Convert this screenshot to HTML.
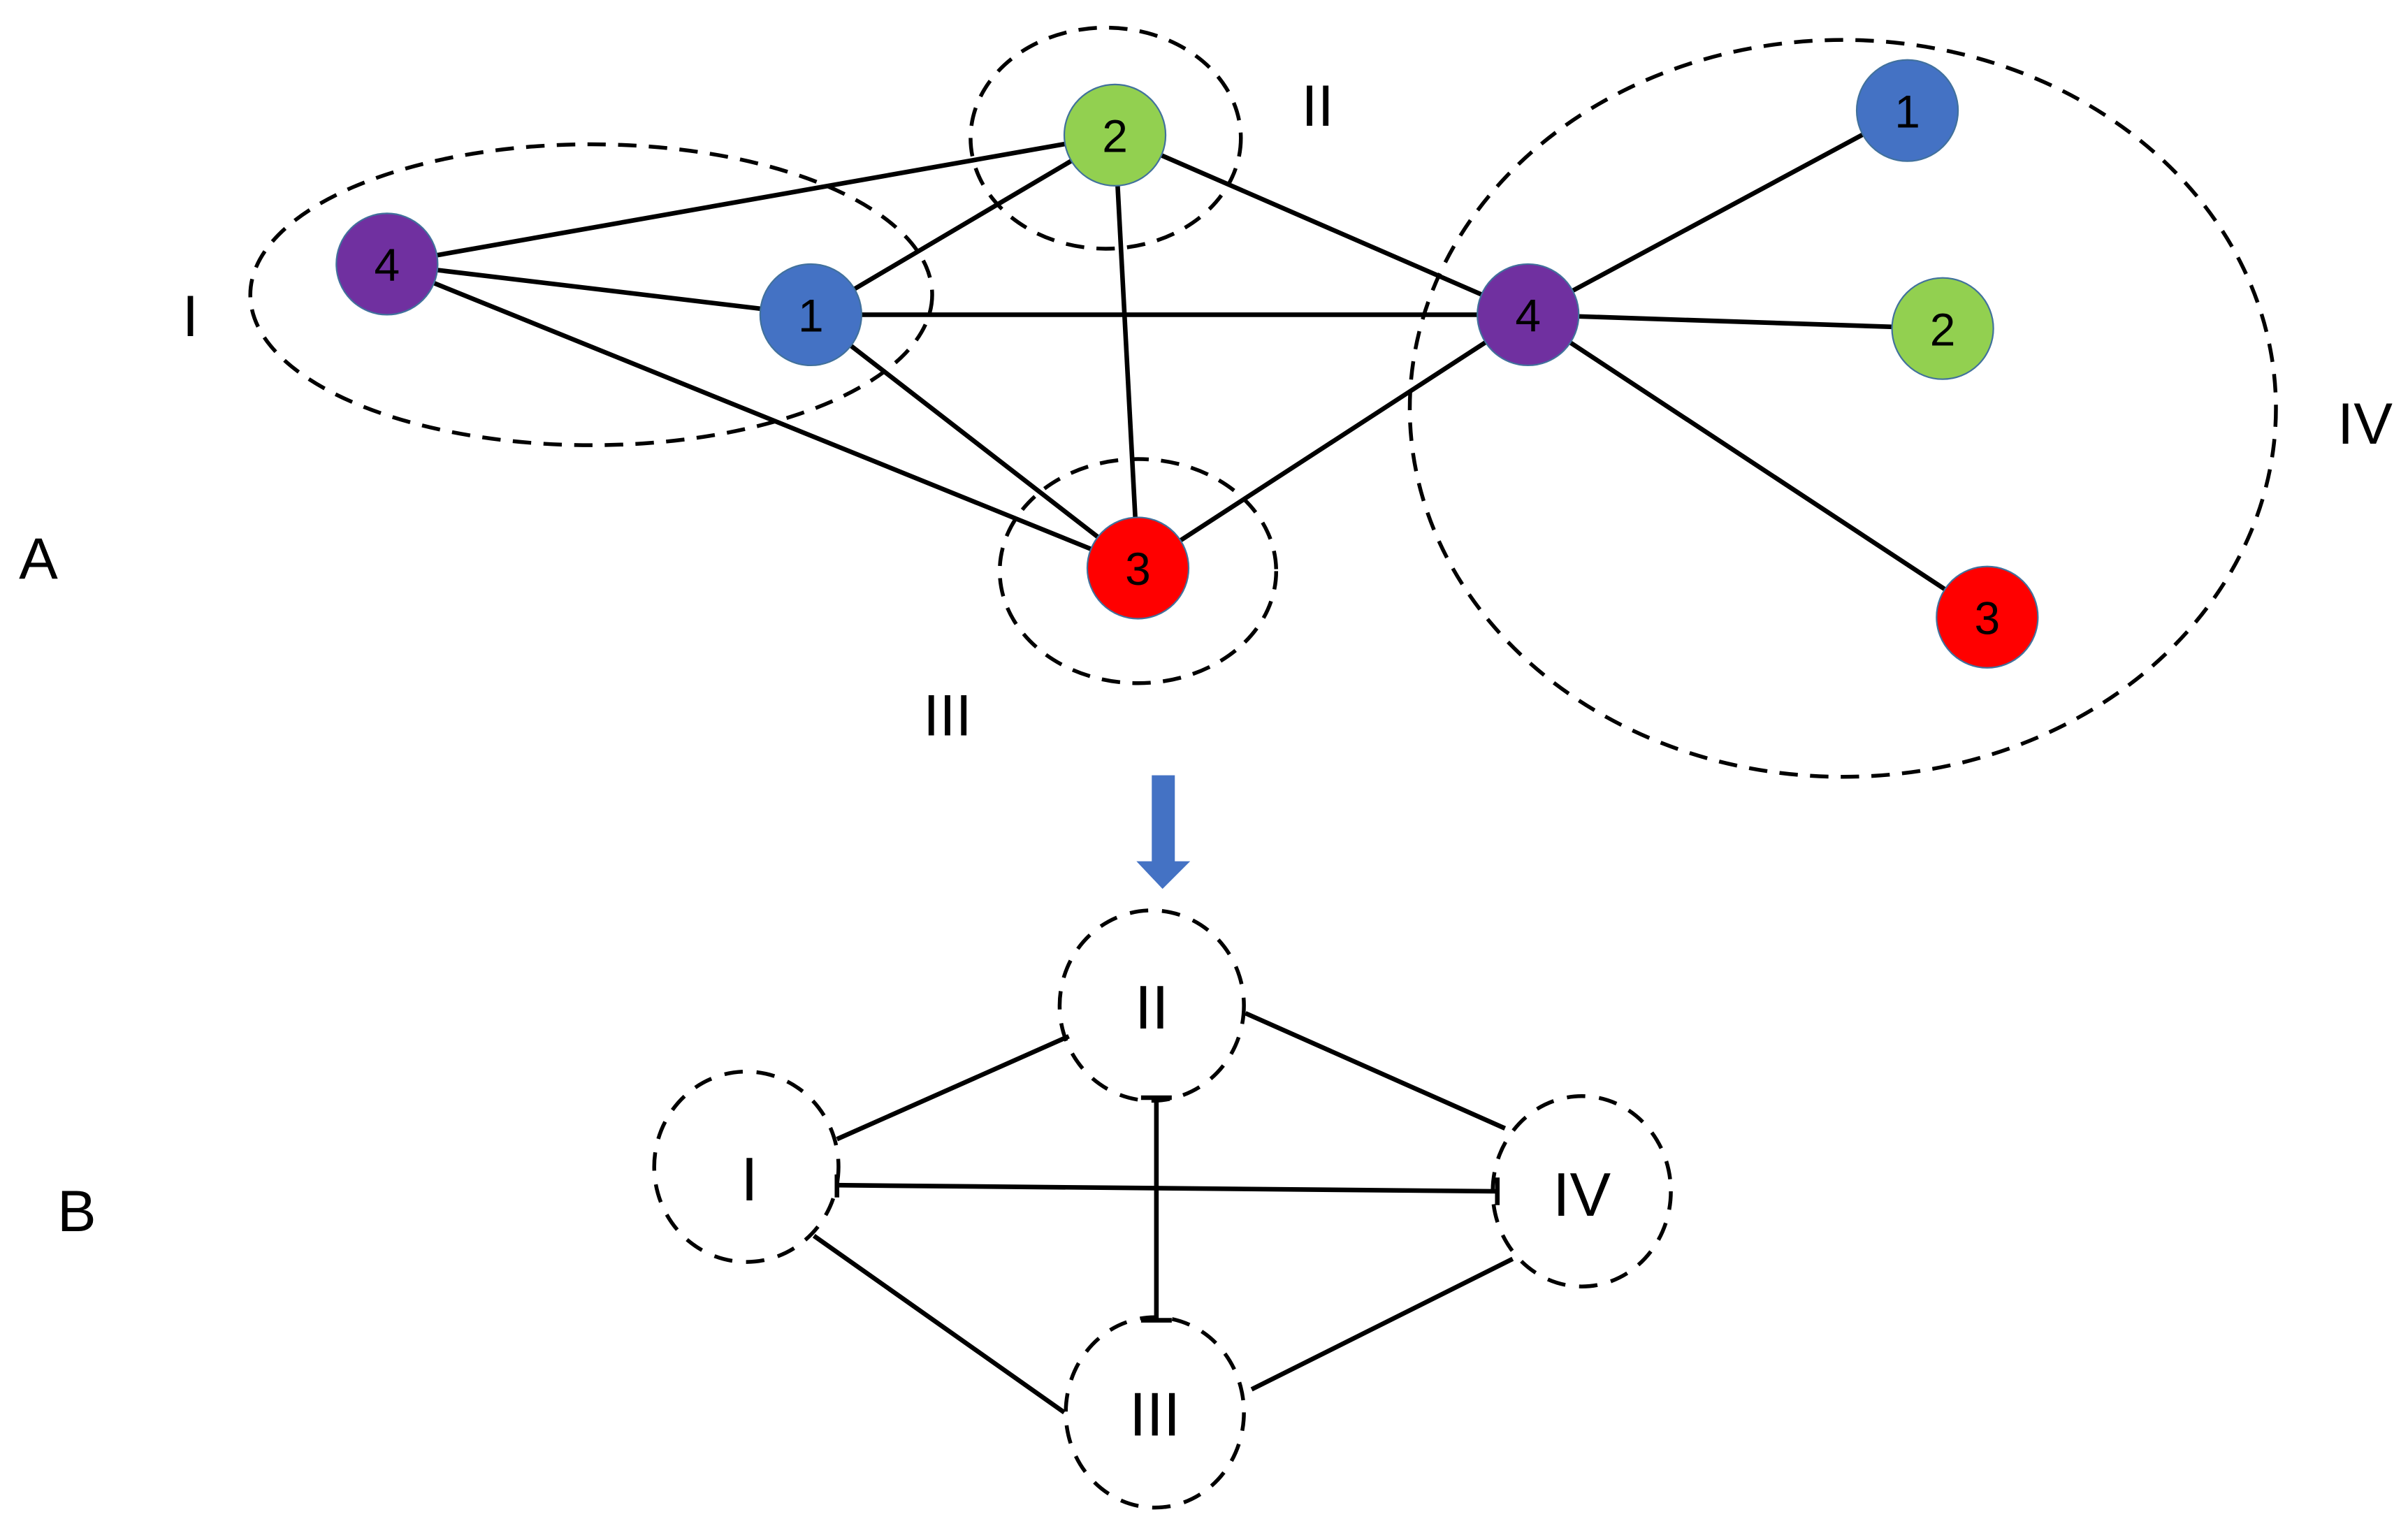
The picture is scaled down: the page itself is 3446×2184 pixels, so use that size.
<!DOCTYPE html>
<html><head><style>html,body{margin:0;padding:0;background:#fff}svg{display:block}</style></head>
<body>
<svg width="3446" height="2184" viewBox="0 0 1568 994" preserveAspectRatio="none" xmlns="http://www.w3.org/2000/svg" font-family="Liberation Sans, sans-serif">
<g stroke="#000" stroke-width="3" fill="none">
<line x1="252" y1="172" x2="726" y2="88"/>
<line x1="252" y1="172" x2="528" y2="205"/>
<line x1="252" y1="172" x2="741" y2="370"/>
<line x1="528" y1="205" x2="726" y2="88"/>
<line x1="528" y1="205" x2="995" y2="205"/>
<line x1="528" y1="205" x2="741" y2="370"/>
<line x1="726" y1="88" x2="741" y2="370"/>
<line x1="726" y1="88" x2="995" y2="205"/>
<line x1="741" y1="370" x2="995" y2="205"/>
<line x1="995" y1="205" x2="1242" y2="72"/>
<line x1="995" y1="205" x2="1265" y2="214"/>
<line x1="995" y1="205" x2="1294" y2="402"/>
</g>
<g stroke="#000" stroke-width="2.5" fill="none" stroke-dasharray="12 8">
<ellipse cx="385" cy="192" rx="222" ry="98"/>
<ellipse cx="720" cy="90" rx="88" ry="72"/>
<ellipse cx="741" cy="372" rx="90" ry="73"/>
<ellipse cx="1200" cy="266" rx="282" ry="240"/>
</g>
<g stroke="#41719c" stroke-width="1">
<circle cx="252" cy="172" r="33" fill="#7030a0"/>
<circle cx="528" cy="205" r="33" fill="#4472c4"/>
<circle cx="726" cy="88" r="33" fill="#92d050"/>
<circle cx="741" cy="370" r="33" fill="#ff0000"/>
<circle cx="995" cy="205" r="33" fill="#7030a0"/>
<circle cx="1242" cy="72" r="33" fill="#4472c4"/>
<circle cx="1265" cy="214" r="33" fill="#92d050"/>
<circle cx="1294" cy="402" r="33" fill="#ff0000"/>
</g>
<g font-size="30" text-anchor="middle" fill="#000">
<text x="252" y="183">4</text><text x="528" y="216">1</text><text x="726" y="99">2</text><text x="741" y="381">3</text>
<text x="995" y="216">4</text><text x="1242" y="83">1</text><text x="1265" y="225">2</text><text x="1294" y="413">3</text>
</g>
<g font-size="38" text-anchor="middle" fill="#000">
<text x="124" y="219">I</text><text x="858" y="82">II</text><text x="617" y="479">III</text><text x="1540" y="289">IV</text>
<text x="25" y="377">A</text><text x="50" y="802">B</text>
</g>
<rect x="750" y="505" width="15" height="58" fill="#4472c4"/>
<polygon points="740,561 775,561 757,579" fill="#4472c4"/>
<g stroke="#000" stroke-width="3" fill="none">
<line x1="545" y1="742" x2="696" y2="675"/>
<line x1="811" y1="660" x2="980" y2="735"/>
<line x1="545" y1="772" x2="975" y2="776"/>
<line x1="753" y1="715" x2="753" y2="860"/>
<line x1="530" y1="805" x2="693" y2="920"/>
<line x1="815" y1="905" x2="985" y2="820"/>
<line x1="743" y1="715" x2="763" y2="715"/>
<line x1="743" y1="860" x2="763" y2="860"/>
<line x1="975" y1="767" x2="975" y2="785"/>
<line x1="545" y1="765" x2="545" y2="780"/>
</g>
<g stroke="#000" stroke-width="2.5" fill="none" stroke-dasharray="12 9">
<ellipse cx="750" cy="655" rx="60" ry="62"/>
<ellipse cx="486" cy="760" rx="60" ry="62"/>
<ellipse cx="1030" cy="776" rx="58" ry="62"/>
<ellipse cx="752" cy="920" rx="58" ry="62"/>
</g>
<g font-size="40" text-anchor="middle" fill="#000">
<text x="750" y="670">II</text><text x="488" y="782">I</text><text x="1030" y="792">IV</text><text x="752" y="935">III</text>
</g>
</svg>
</body></html>
